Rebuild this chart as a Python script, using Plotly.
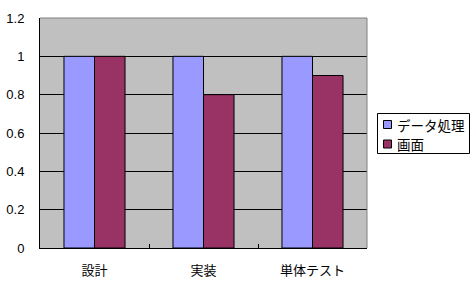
import plotly.graph_objects as go

categories = ["設計", "実装", "単体テスト"]
series_names = ["データ処理", "画面"]
series_colors = ["#9999FF", "#993366"]
data_values = [1.0, 1.0, 1.0]
screen_values = [1.0, 0.8, 0.9]
y_ticks = [0, 0.2, 0.4, 0.6, 0.8, 1.0, 1.2]
y_tick_labels = ["0", "0.2", "0.4", "0.6", "0.8", "1", "1.2"]

FONT = "Noto Sans CJK JP, sans-serif"
W, H = 472, 284
ML, MR, MT, MB = 40, 105, 18, 36
PW, PH = W - ML - MR, H - MT - MB


def px_x(px):
    return (px - ML) / PW


def px_y(py):
    return (H - MB - py) / PH


fig = go.Figure()
for name, vals, col in zip(series_names, [data_values, screen_values], series_colors):
    fig.add_trace(go.Bar(x=categories, y=vals, name=name,
                         marker=dict(color=col, line=dict(color="black", width=1))))

fig.update_layout(
    width=W, height=H,
    margin=dict(l=ML, r=MR, t=MT, b=MB, autoexpand=False),
    paper_bgcolor="white", plot_bgcolor="#C0C0C0",
    barmode="group", bargap=0.44, bargroupgap=0.0,
    font=dict(family=FONT, size=12, color="black"),
    showlegend=False,
)
fig.update_xaxes(showline=True, linecolor="black", linewidth=1,
                 ticks="inside", tickson="boundaries", ticklen=4, tickcolor="black",
                 showgrid=False, ticklabelstandoff=10, automargin=False,
                 tickfont=dict(family=FONT, size=13))
fig.update_yaxes(range=[0, 1.2], tickvals=y_ticks, ticktext=y_tick_labels,
                 showline=True, linecolor="black", linewidth=1,
                 showgrid=True, gridcolor="black", gridwidth=1,
                 zeroline=False, ticks="", ticklabelstandoff=12, automargin=False,
                 tickfont=dict(family="Liberation Sans, Arial, sans-serif", size=13))
# top and right border of plot area in gray
fig.add_shape(type="line", xref="paper", yref="paper", x0=0, x1=1, y0=1, y1=1,
              line=dict(color="#808080", width=1))
fig.add_shape(type="line", xref="paper", yref="paper", x0=1, x1=1, y0=0, y1=1,
              line=dict(color="#808080", width=1))

# custom legend box
fig.add_shape(type="rect", xref="paper", yref="paper",
              x0=px_x(377.5), x1=px_x(469.5), y0=px_y(153.5), y1=px_y(113.5),
              line=dict(color="black", width=1), fillcolor="white")
for i, (name, col) in enumerate(zip(series_names, series_colors)):
    top = 120.5 + i * 19.5
    fig.add_shape(type="rect", xref="paper", yref="paper",
                  x0=px_x(383.5), x1=px_x(391.5), y0=px_y(top + 8), y1=px_y(top),
                  line=dict(color="black", width=1), fillcolor=col)
    fig.add_annotation(xref="paper", yref="paper", x=px_x(395), y=px_y(top + 4),
                       xanchor="left", yanchor="middle", showarrow=False,
                       text=name, font=dict(family=FONT, size=13.5, color="black"))

fig.write_html("out.html")
